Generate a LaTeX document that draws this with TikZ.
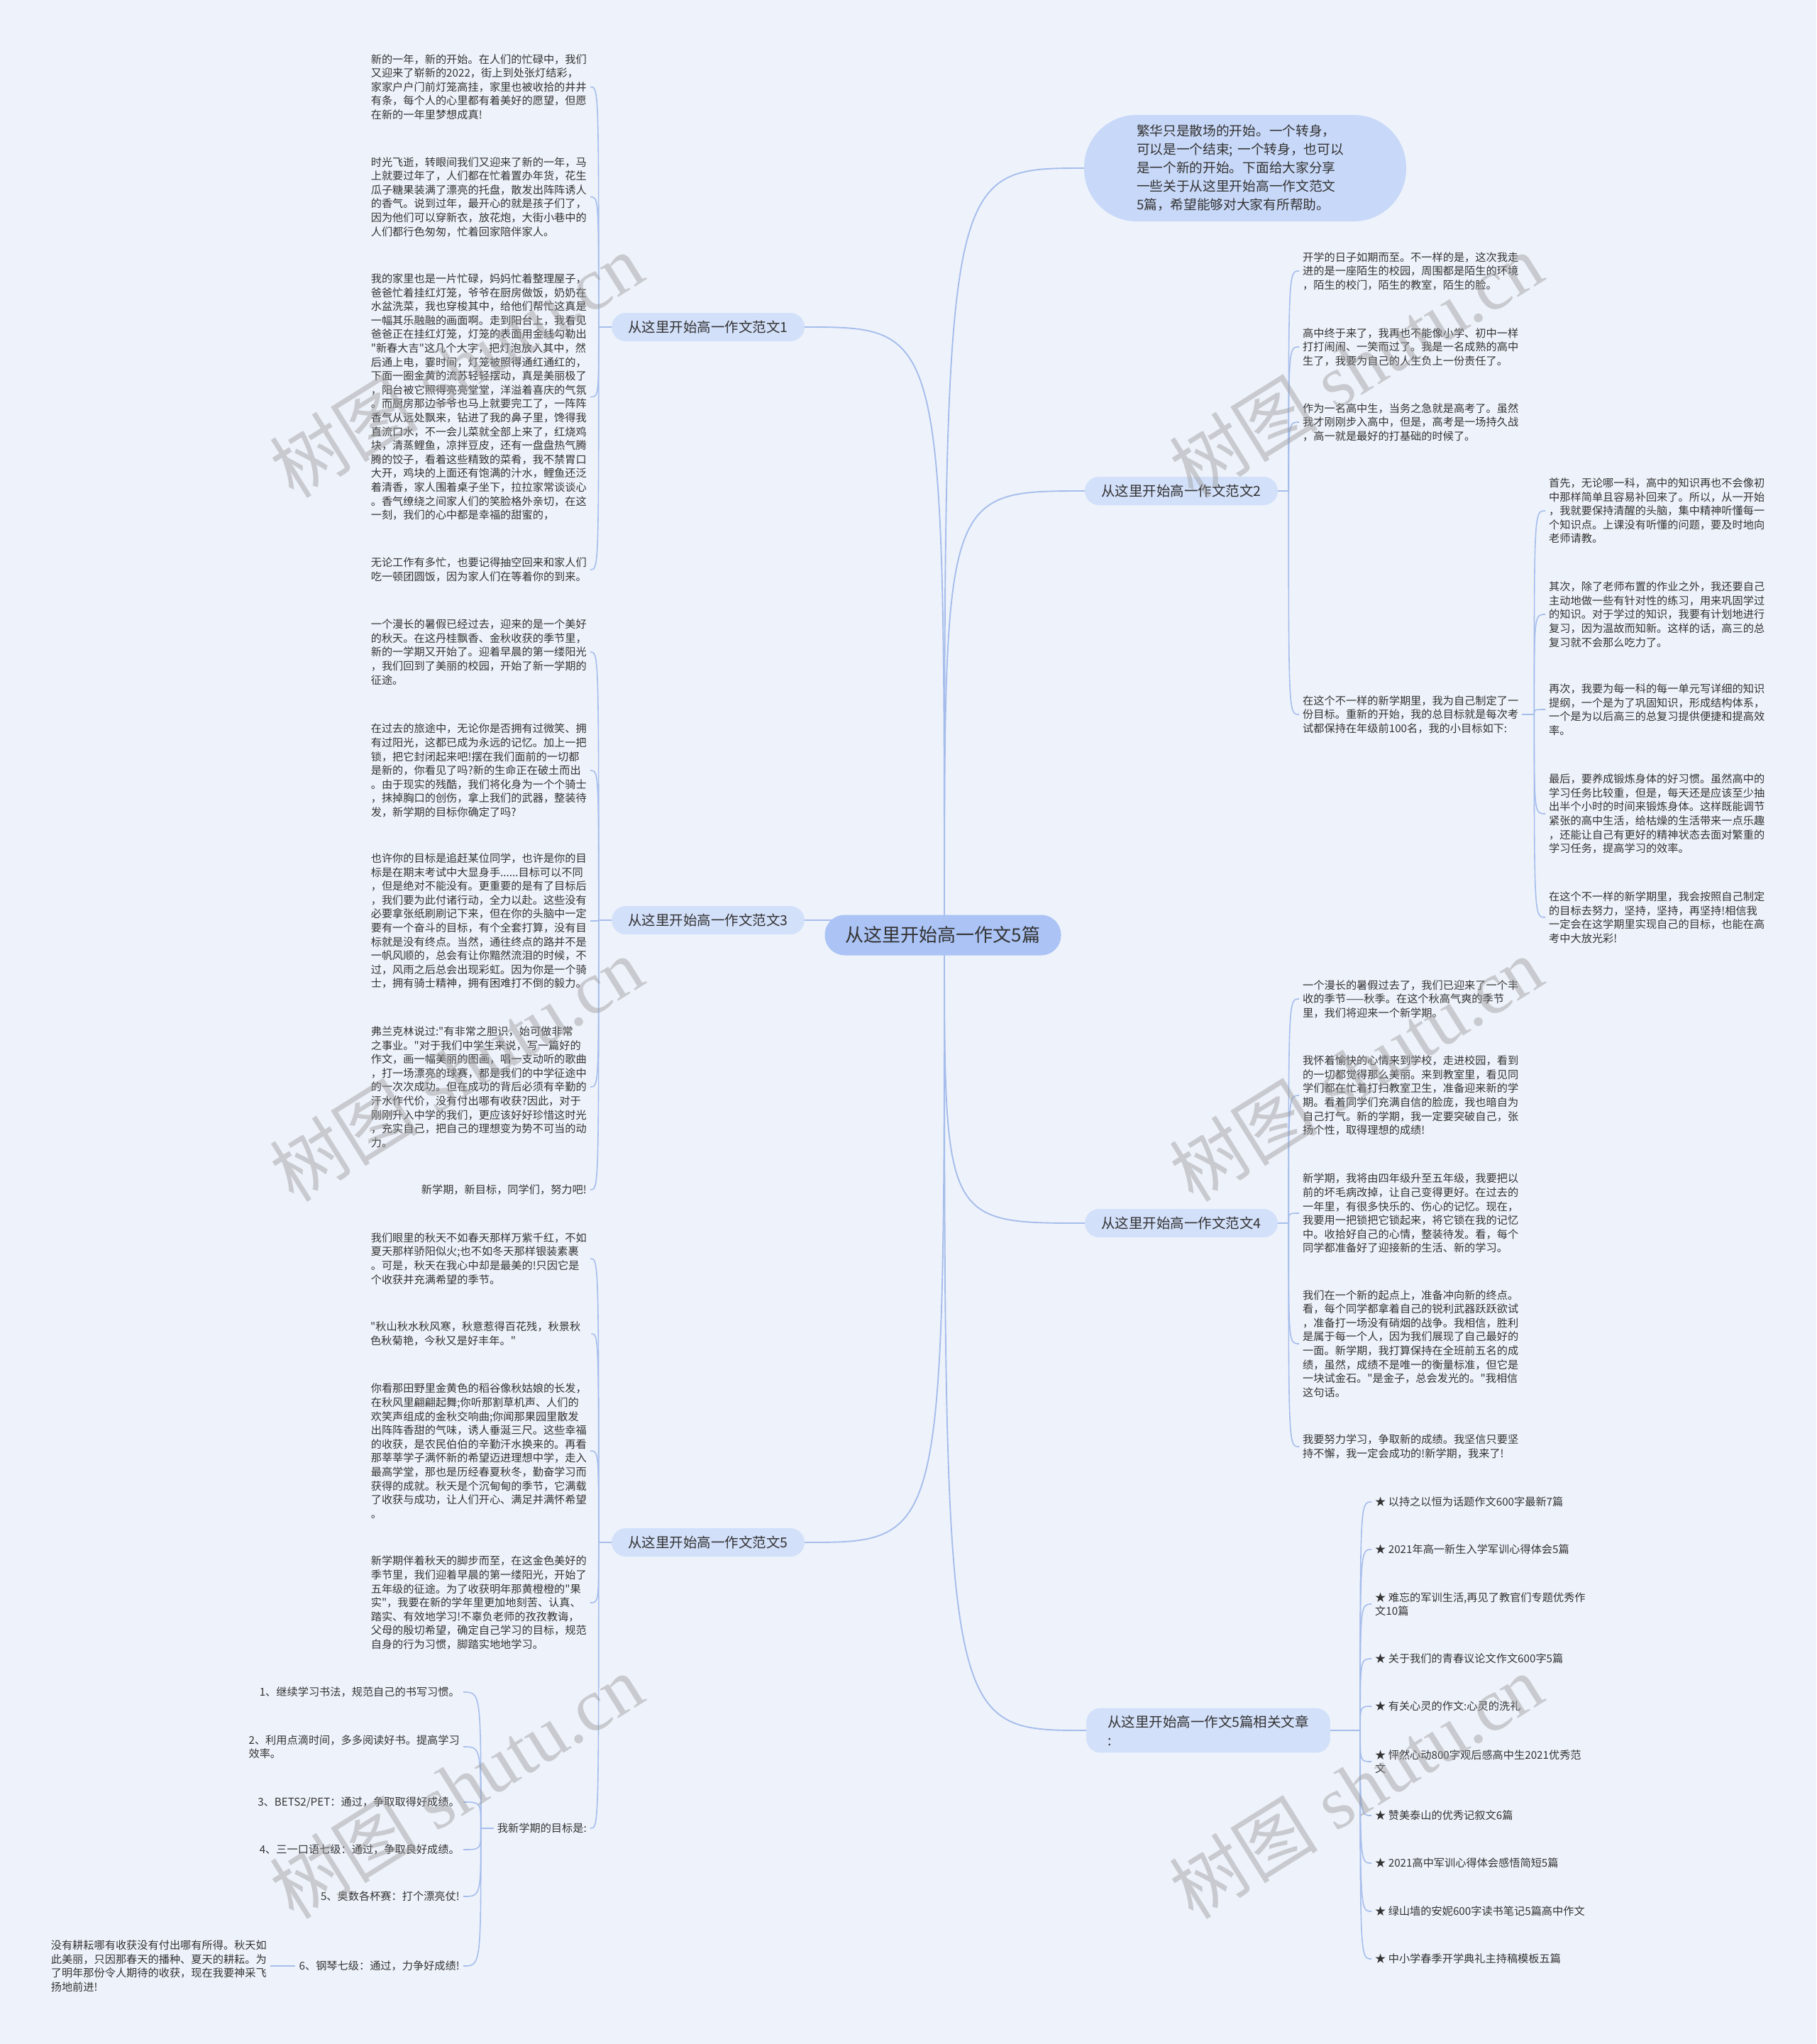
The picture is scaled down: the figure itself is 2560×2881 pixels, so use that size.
\documentclass[tikz,border=0pt]{standalone}
\usepackage{fontspec}
\setmainfont{Noto Sans CJK SC}[Ligatures=TeXOff]
\newfontfamily\wmlatin{Liberation Serif}
\pgfdeclarelayer{bgfill}
\pgfdeclarelayer{lines}
\pgfsetlayers{bgfill,lines,main}
\definecolor{bgc}{HTML}{EEF3FB}
\definecolor{l1c}{HTML}{D3E0FA}
\definecolor{cc}{HTML}{ABC3F5}
\definecolor{introc}{HTML}{C8D8F8}
\definecolor{linec}{HTML}{A6BDEC}
\definecolor{textc}{HTML}{333333}
\definecolor{wmc}{HTML}{9A9A9A}
\tikzset{
  txt/.style={font=\fontsize{15.2}{19.6}\selectfont, text=textc, align=left, inner xsep=5pt, inner ysep=2pt},
  lt/.style={txt, anchor=east},
  rt/.style={txt, anchor=west},
  lvl/.style={fill=l1c, rounded corners=20pt, minimum width=272pt, minimum height=40pt, inner sep=0pt, text=textc, font=\fontsize{19.5}{24}\selectfont},
  centre/.style={fill=cc, rounded corners=28pt, minimum width=333pt, minimum height=57pt, inner sep=0pt, text=textc, font=\fontsize{26}{30}\selectfont},
  intro/.style={fill=introc, rounded corners=74pt, minimum height=150pt, text width=306pt, inner xsep=74pt, inner ysep=0pt, align=left, text=textc, font=\fontsize{18.7}{26}\selectfont},
  conn/.style={draw=linec, line width=1.6pt},
  mconn/.style={draw=linec, line width=1.9pt},
  wm/.style={text=wmc, opacity=0.45, font=\fontsize{105}{105}\selectfont, inner sep=0pt}
}
\newcommand\linkL[2]{\draw[conn] (#1) .. controls (#1 |- #2.east) .. (#2.east);}
\newcommand\linkR[2]{\draw[conn] (#1) .. controls (#1 |- #2.west) .. (#2.west);}
\begin{document}
\begin{tikzpicture}[x=1pt,y=-1pt]
\useasboundingbox (0,0) rectangle (2560,2881);
\begin{pgfonlayer}{bgfill}
\fill[bgc] (0,0) rectangle (2560,2881);
\end{pgfonlayer}

% centre and first level
\node[centre] (c) at (1329,1318) {从这里开始高一作文5篇};
\coordinate (C) at (1331,1318);
\node[intro] (intro) at (1755,237) {繁华只是散场的开始。一个转身，\\可以是一个结束; 一个转身，也可以\\是一个新的开始。下面给大家分享\\一些关于从这里开始高一作文范文\\5篇，希望能够对大家有所帮助。};
\node[lvl] (n1) at (998,461) {从这里开始高一作文范文1};
\node[lvl] (n3) at (998,1297) {从这里开始高一作文范文3};
\node[lvl] (n5) at (998,2174) {从这里开始高一作文范文5};
\node[lvl] (n2) at (1665,692) {从这里开始高一作文范文2};
\node[lvl] (n4) at (1665,1724) {从这里开始高一作文范文4};
\node[lvl, align=left, inner xsep=30pt, inner ysep=10pt, minimum width=0pt, font=\fontsize{19.5}{26}\selectfont] (nr) at (1703,2439) {从这里开始高一作文5篇相关文章\\:};

% 范文1
\node[lt] (p11) at (832,122.5) {新的一年，新的开始。在人们的忙碌中，我们\\又迎来了崭新的2022，街上到处张灯结彩，\\家家户户门前灯笼高挂，家里也被收拾的井井\\有条，每个人的心里都有着美好的愿望，但愿\\在新的一年里梦想成真!};
\node[lt] (p12) at (832,277.5) {时光飞逝，转眼间我们又迎来了新的一年，马\\上就要过年了，人们都在忙着置办年货，花生\\瓜子糖果装满了漂亮的托盘，散发出阵阵诱人\\的香气。说到过年，最开心的就是孩子们了，\\因为他们可以穿新衣，放花炮，大街小巷中的\\人们都行色匆匆，忙着回家陪伴家人。};
\node[lt] (p13) at (832,559.5) {我的家里也是一片忙碌，妈妈忙着整理屋子，\\爸爸忙着挂红灯笼，爷爷在厨房做饭，奶奶在\\水盆洗菜，我也穿梭其中，给他们帮忙这真是\\一幅其乐融融的画面啊。走到阳台上，我看见\\爸爸正在挂红灯笼，灯笼的表面用金线勾勒出\\"新春大吉"这几个大字，把灯泡放入其中，然\\后通上电，霎时间，灯笼被照得通红通红的，\\下面一圈金黄的流苏轻轻摆动，真是美丽极了\\，阳台被它照得亮亮堂堂，洋溢着喜庆的气氛\\。而厨房那边爷爷也马上就要完工了，一阵阵\\香气从远处飘来，钻进了我的鼻子里，馋得我\\直流口水，不一会儿菜就全部上来了，红烧鸡\\块，清蒸鲤鱼，凉拌豆皮，还有一盘盘热气腾\\腾的饺子，看着这些精致的菜肴，我不禁胃口\\大开，鸡块的上面还有饱满的汁水，鲤鱼还泛\\着清香，家人围着桌子坐下，拉拉家常谈谈心\\。香气缭绕之间家人们的笑脸格外亲切，在这\\一刻，我们的心中都是幸福的甜蜜的，};
\node[lt] (p14) at (832,803) {无论工作有多忙，也要记得抽空回来和家人们\\吃一顿团圆饭，因为家人们在等着你的到来。};

% 范文3
\node[lt] (p31) at (832,919) {一个漫长的暑假已经过去，迎来的是一个美好\\的秋天。在这丹桂飘香、金秋收获的季节里，\\新的一学期又开始了。迎着早晨的第一缕阳光\\，我们回到了美丽的校园，开始了新一学期的\\征途。};
\node[lt] (p32) at (832,1086) {在过去的旅途中，无论你是否拥有过微笑、拥\\有过阳光，这都已成为永远的记忆。加上一把\\锁，把它封闭起来吧!摆在我们面前的一切都\\是新的，你看见了吗?新的生命正在破土而出\\。由于现实的残酷，我们将化身为一个个骑士\\，抹掉胸口的创伤，拿上我们的武器，整装待\\发，新学期的目标你确定了吗?};
\node[lt] (p33) at (832,1298) {也许你的目标是追赶某位同学，也许是你的目\\标是在期末考试中大显身手......目标可以不同\\，但是绝对不能没有。更重要的是有了目标后\\，我们要为此付诸行动，全力以赴。这些没有\\必要拿张纸刷刷记下来，但在你的头脑中一定\\要有一个奋斗的目标，有个全套打算，没有目\\标就是没有终点。当然，通往终点的路并不是\\一帆风顺的，总会有让你黯然流泪的时候，不\\过，风雨之后总会出现彩虹。因为你是一个骑\\士，拥有骑士精神，拥有困难打不倒的毅力。};
\node[lt] (p34) at (832,1532) {弗兰克林说过:"有非常之胆识，始可做非常\\之事业。"对于我们中学生来说，写一篇好的\\作文，画一幅美丽的图画，唱一支动听的歌曲\\，打一场漂亮的球赛，都是我们的中学征途中\\的一次次成功。但在成功的背后必须有辛勤的\\汗水作代价，没有付出哪有收获?因此，对于\\刚刚升入中学的我们，更应该好好珍惜这时光\\，充实自己，把自己的理想变为势不可当的动\\力。};
\node[lt] (p35) at (832,1677) {新学期，新目标，同学们，努力吧!};

% 范文5
\node[lt] (p51) at (832,1774) {我们眼里的秋天不如春天那样万紫千红，不如\\夏天那样骄阳似火;也不如冬天那样银装素裹\\。可是，秋天在我心中却是最美的!只因它是\\个收获并充满希望的季节。};
\node[txt, anchor=west] (p52) at (517,1880) {"秋山秋水秋风寒，秋意惹得百花残，秋景秋\\色秋菊艳，今秋又是好丰年。"};
\node[lt] (p53) at (832,2045) {你看那田野里金黄色的稻谷像秋姑娘的长发，\\在秋风里翩翩起舞;你听那割草机声、人们的\\欢笑声组成的金秋交响曲;你闻那果园里散发\\出阵阵香甜的气味，诱人垂涎三尺。这些幸福\\的收获，是农民伯伯的辛勤汗水换来的。再看\\那莘莘学子满怀新的希望迈进理想中学，走入\\最高学堂，那也是历经春夏秋冬，勤奋学习而\\获得的成就。秋天是个沉甸甸的季节，它满载\\了收获与成功，让人们开心、满足并满怀希望\\。};
\node[lt] (p54) at (832,2259) {新学期伴着秋天的脚步而至，在这金色美好的\\季节里，我们迎着早晨的第一缕阳光，开始了\\五年级的征途。为了收获明年那黄橙橙的"果\\实"，我要在新的学年里更加地刻苦、认真、\\踏实、有效地学习!不辜负老师的孜孜教诲，\\父母的殷切希望，确定自己学习的目标，规范\\自身的行为习惯，脚踏实地地学习。};
\node[lt] (p55) at (832,2577) {我新学期的目标是:};

% goals
\node[lt] (g1) at (653,2385) {1、继续学习书法，规范自己的书写习惯。};
\node[lt] (g2) at (653,2462) {2、利用点滴时间，多多阅读好书。提高学习\\效率。};
\node[lt] (g3) at (653,2540) {3、BETS2/PET：通过，争取取得好成绩。};
\node[lt] (g4) at (653,2607) {4、三一口语七级：通过，争取良好成绩。};
\node[lt] (g5) at (653,2673) {5、奥数各杯赛：打个漂亮仗!};
\node[lt] (g6) at (653,2771) {6、钢琴七级：通过，力争好成绩!};
\node[lt] (gx) at (381,2771) {没有耕耘哪有收获没有付出哪有所得。秋天如\\此美丽，只因那春天的播种、夏天的耕耘。为\\了明年那份令人期待的收获，现在我要神采飞\\扬地前进!};

% 范文2
\node[rt] (q1) at (1831,382) {开学的日子如期而至。不一样的是，这次我走\\进的是一座陌生的校园，周围都是陌生的环境\\，陌生的校门，陌生的教室，陌生的脸。};
\node[rt] (q2) at (1831,489) {高中终于来了，我再也不能像小学、初中一样\\打打闹闹、一笑而过了。我是一名成熟的高中\\生了，我要为自己的人生负上一份责任了。};
\node[rt] (q3) at (1831,595) {作为一名高中生，当务之急就是高考了。虽然\\我才刚刚步入高中，但是，高考是一场持久战\\，高一就是最好的打基础的时候了。};
\node[rt] (q4) at (1831,1007) {在这个不一样的新学期里，我为自己制定了一\\份目标。重新的开始，我的总目标就是每次考\\试都保持在年级前100名，我的小目标如下:};

\node[rt] (r1) at (2178,720) {首先，无论哪一科，高中的知识再也不会像初\\中那样简单且容易补回来了。所以，从一开始\\，我就要保持清醒的头脑，集中精神听懂每一\\个知识点。上课没有听懂的问题，要及时地向\\老师请教。};
\node[rt] (r2) at (2178,866) {其次，除了老师布置的作业之外，我还要自己\\主动地做一些有针对性的练习，用来巩固学过\\的知识。对于学过的知识，我要有计划地进行\\复习，因为温故而知新。这样的话，高三的总\\复习就不会那么吃力了。};
\node[rt] (r3) at (2178,1000) {再次，我要为每一科的每一单元写详细的知识\\提纲，一个是为了巩固知识，形成结构体系，\\一个是为以后高三的总复习提供便捷和提高效\\率。};
\node[rt] (r4) at (2178,1147) {最后，要养成锻炼身体的好习惯。虽然高中的\\学习任务比较重，但是，每天还是应该至少抽\\出半个小时的时间来锻炼身体。这样既能调节\\紧张的高中生活，给枯燥的生活带来一点乐趣\\，还能让自己有更好的精神状态去面对繁重的\\学习任务，提高学习的效率。};
\node[rt] (r5) at (2178,1293) {在这个不一样的新学期里，我会按照自己制定\\的目标去努力，坚持，坚持，再坚持!相信我\\一定会在这学期里实现自己的目标，也能在高\\考中大放光彩!};

% 范文4
\node[rt] (s1) at (1831,1408) {一个漫长的暑假过去了，我们已迎来了一个丰\\收的季节——秋季。在这个秋高气爽的季节\\里，我们将迎来一个新学期。};
\node[rt] (s2) at (1831,1544) {我怀着愉快的心情来到学校，走进校园，看到\\的一切都觉得那么美丽。来到教室里，看见同\\学们都在忙着打扫教室卫生，准备迎来新的学\\期。看着同学们充满自信的脸庞，我也暗自为\\自己打气。新的学期，我一定要突破自己，张\\扬个性，取得理想的成绩!};
\node[rt] (s3) at (1831,1710) {新学期，我将由四年级升至五年级，我要把以\\前的坏毛病改掉，让自己变得更好。在过去的\\一年里，有很多快乐的、伤心的记忆。现在，\\我要用一把锁把它锁起来，将它锁在我的记忆\\中。收拾好自己的心情，整装待发。看，每个\\同学都准备好了迎接新的生活、新的学习。};
\node[rt] (s4) at (1831,1894) {我们在一个新的起点上，准备冲向新的终点。\\看，每个同学都拿着自己的锐利武器跃跃欲试\\，准备打一场没有硝烟的战争。我相信，胜利\\是属于每一个人，因为我们展现了自己最好的\\一面。新学期，我打算保持在全班前五名的成\\绩，虽然，成绩不是唯一的衡量标准，但它是\\一块试金石。"是金子，总会发光的。"我相信\\这句话。};
\node[rt] (s5) at (1831,2039) {我要努力学习，争取新的成绩。我坚信只要坚\\持不懈，我一定会成功的!新学期，我来了!};

% related
\node[rt] (t1) at (1933,2117) {★ 以持之以恒为话题作文600字最新7篇};
\node[rt] (t2) at (1933,2184) {★ 2021年高一新生入学军训心得体会5篇};
\node[rt] (t3) at (1933,2261) {★ 难忘的军训生活,再见了教官们专题优秀作\\文10篇};
\node[rt] (t4) at (1933,2338) {★ 关于我们的青春议论文作文600字5篇};
\node[rt] (t5) at (1933,2405) {★ 有关心灵的作文:心灵的洗礼};
\node[rt] (t6) at (1933,2483) {★ 怦然心动800字观后感高中生2021优秀范\\文};
\node[rt] (t7) at (1933,2559) {★ 赞美泰山的优秀记叙文6篇};
\node[rt] (t8) at (1933,2626) {★ 2021高中军训心得体会感悟简短5篇};
\node[rt] (t9) at (1933,2694) {★ 绿山墙的安妮600字读书笔记5篇高中作文};
\node[rt] (t10) at (1933,2761) {★ 中小学春季开学典礼主持稿模板五篇};

% junctions
\coordinate (J1) at ([xshift=-18pt]n1.west);
\coordinate (J3) at ([xshift=-18pt]n3.west);
\coordinate (J5) at ([xshift=-18pt]n5.west);
\coordinate (JG) at ([xshift=-18pt]p55.west);
\coordinate (J2) at ([xshift=15pt]n2.east);
\coordinate (J4) at ([xshift=15pt]n4.east);
\coordinate (JQ) at ([xshift=17pt]q4.east);
\coordinate (JR) at ([xshift=42pt]nr.east);

\begin{pgfonlayer}{lines}
\draw[mconn] (C) .. controls (C |- intro.west) .. (intro.west);
\draw[mconn] (C) .. controls (C |- n1.east) .. (n1.east);
\draw[mconn] (C) .. controls (C |- n3.east) .. (n3.east);
\draw[mconn] (C) .. controls (C |- n5.east) .. (n5.east);
\draw[mconn] (C) .. controls (C |- n2.west) .. (n2.west);
\draw[mconn] (C) .. controls (C |- n4.west) .. (n4.west);
\draw[mconn] (C) .. controls (C |- nr.west) .. (nr.west);
\draw[conn] (n1.west) -- (J1);
\draw[conn] (n3.west) -- (J3);
\draw[conn] (n5.west) -- (J5);
\draw[conn] (p55.west) -- (JG);
\draw[conn] (n2.east) -- (J2);
\draw[conn] (n4.east) -- (J4);
\draw[conn] (q4.east) -- (JQ);
\draw[conn] (nr.east) -- (JR);
\linkL{J1}{p11}\linkL{J1}{p12}\linkL{J1}{p13}\linkL{J1}{p14}
\linkL{J3}{p31}\linkL{J3}{p32}\linkL{J3}{p33}\linkL{J3}{p34}\linkL{J3}{p35}
\linkL{J5}{p51}\draw[conn] (J5) .. controls (J5 |- p52.east) .. ([xshift=10pt]p52.east);\linkL{J5}{p53}\linkL{J5}{p54}\linkL{J5}{p55}
\linkL{JG}{g1}\linkL{JG}{g2}\linkL{JG}{g3}\linkL{JG}{g4}\linkL{JG}{g5}\linkL{JG}{g6}
\draw[conn] (g6.west) -- (gx.east);
\linkR{J2}{q1}\linkR{J2}{q2}\linkR{J2}{q3}\linkR{J2}{q4}
\linkR{JQ}{r1}\linkR{JQ}{r2}\linkR{JQ}{r3}\linkR{JQ}{r4}\linkR{JQ}{r5}
\linkR{J4}{s1}\linkR{J4}{s2}\linkR{J4}{s3}\linkR{J4}{s4}\linkR{J4}{s5}
\linkR{JR}{t1}\linkR{JR}{t2}\linkR{JR}{t3}\linkR{JR}{t4}\linkR{JR}{t5}
\linkR{JR}{t6}\linkR{JR}{t7}\linkR{JR}{t8}\linkR{JR}{t9}\linkR{JR}{t10}
\end{pgfonlayer}

% watermarks
\node[wm, rotate=32] (w1) at (643,515) {树图\hspace{0.25em}{\wmlatin shutu.cn}};
\node[wm, rotate=32] (w2) at (1911,515) {树图\hspace{0.25em}{\wmlatin shutu.cn}};
\node[wm, rotate=32] (w3) at (643,1507) {树图\hspace{0.25em}{\wmlatin shutu.cn}};
\node[wm, rotate=32] (w4) at (1911,1507) {树图\hspace{0.25em}{\wmlatin shutu.cn}};
\node[wm, rotate=32] (w5) at (643,2518) {树图\hspace{0.25em}{\wmlatin shutu.cn}};
\node[wm, rotate=32] (w6) at (1911,2518) {树图\hspace{0.25em}{\wmlatin shutu.cn}};
\end{tikzpicture}
\end{document}
